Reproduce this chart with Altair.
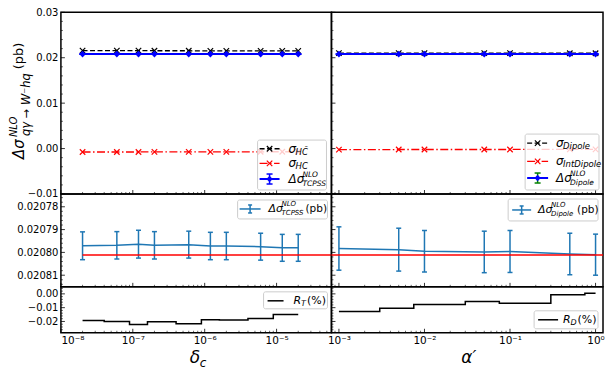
import math
import altair as alt
import pandas as pd

# ---------------- data ----------------
delta_c = [2e-8, 6e-8, 1.2e-7, 2e-7, 6e-7, 1.2e-6, 2e-6, 6e-6, 1.2e-5, 2e-5]
alpha_p = [1e-3, 5e-3, 1e-2, 5e-2, 1e-1, 5e-1, 1.0]

nlo_tcpss = [0.0207971, 0.0207969, 0.0207964, 0.0207969, 0.0207966,
             0.0207972, 0.0207972, 0.0207975, 0.0207980, 0.0207980]
nlo_tcpss_err = [0.0000061, 0.0000060, 0.0000061, 0.0000060, 0.0000059,
                 0.0000060, 0.0000060, 0.0000059, 0.0000059, 0.0000059]
nlo_dipole = [0.0207983, 0.0207988, 0.0207995, 0.0207998, 0.0207996, 0.0208007, 0.0208010]
nlo_dipole_err = [0.0000095, 0.0000094, 0.0000091, 0.0000091, 0.0000092, 0.0000091, 0.0000090]
nlo_reference = 0.0208011

sigma_hcbar = [0.02156, 0.02155, 0.02155, 0.02154, 0.02153, 0.02152, 0.02152, 0.02151, 0.02150, 0.02150]
sigma_hc = [-0.00076, -0.00075, -0.00075, -0.00074, -0.00073, -0.00072, -0.00072, -0.00071, -0.00070, -0.00070]
sigma_dipole = [0.02102, 0.02101, 0.02101, 0.02100, 0.02100, 0.02099, 0.02099]
sigma_intdipole = [-0.00022, -0.00021, -0.00021, -0.00020, -0.00020, -0.00019, -0.00019]

r_t = [-0.0193, -0.0200, -0.0222, -0.0202, -0.0217, -0.0188, -0.0190, -0.0178, -0.0149, -0.0149]
r_d = [-0.0128, -0.0104, -0.0077, -0.0055, -0.0068, -0.0007, 0.0005]

x_major = {"L": [1e-8, 1e-7, 1e-6, 1e-5], "R": [1e-3, 1e-2, 1e-1, 1.0]}
x_labels = {"L": ["10⁻⁸", "10⁻⁷", "10⁻⁶", "10⁻⁵"], "R": ["10⁻³", "10⁻²", "10⁻¹", "10⁰"]}
y_major = {"T": [-0.01, 0.0, 0.01, 0.02, 0.03],
           "M": [0.02078, 0.02079, 0.02080, 0.02081],
           "B": [-0.02, -0.01, 0.0]}

# ---------------- layout / style ----------------
FONT = "DejaVu Sans"
W = {"L": 271, "R": 272}
H = {"T": 182, "M": 93, "B": 46}
XDOM = {"L": [1e-8, 5.8e-5], "R": [8.18e-4, 1.222]}
YDOM = {"T": [-0.01, 0.03], "M": [0.0207744, 0.0208151], "B": [-0.0282, 0.0051]}
BLUE, TAB, RED, GREEN = "#0000ff", "#1f77b4", "#ff0000", "#008000"
XPATH = "M-1,-1L1,1M-1,1L1,-1"
HPATH = "M-1,0L1,0"
DASH = [5, 2.5]
DASHDOT = [8, 2.5, 1.5, 2.5]
ONE = pd.DataFrame({"k": [0]})
TOP_OFF = 13  # page y of the top panel (legend positions measured in page pixels)


def log_minors(lo, hi):
    out = []
    for e in range(-9, 1):
        for m in range(2, 10):
            v = m * 10.0 ** e
            if lo <= v <= hi:
                out.append(v)
    return out


y_minor = {
    "T": [round(k * 0.002, 4) for k in range(-4, 15) if k % 5 != 0],
    "M": [round(0.020776 + 2e-6 * k, 7) for k in range(20) if k % 5 != 2],
    "B": [round(k * 0.002, 4) for k in range(-14, 3) if k % 5 != 0],
}


def x_axis(side, row):
    if row != "B":
        return None
    expr = " ".join(
        f"abs(log(datum.value)/LN10-({round(math.log10(v))}))<0.01 ? '{lab}' :"
        for v, lab in zip(x_major[side], x_labels[side])) + " ''"
    return alt.Axis(values=x_major[side], labelExpr=expr, ticks=False, domain=False,
                    grid=False, title=None, labelFont=FONT, labelFontSize=10.5,
                    labelColor="black", labelPadding=3)


def y_axis(side, row):
    if side != "L":
        return None
    return alt.Axis(values=y_major[row], format=".5f" if row == "M" else ".2f",
                    ticks=False, domain=False, grid=False, title=None,
                    labelFont=FONT, labelFontSize=10, labelColor="black", labelPadding=3)


def X(f, side, row):
    return alt.X(f, type="quantitative", axis=x_axis(side, row),
                 scale=alt.Scale(type="log", domain=XDOM[side], nice=False))


def Y(f, side, row):
    return alt.Y(f, type="quantitative", axis=y_axis(side, row),
                 scale=alt.Scale(domain=YDOM[row], reverse=(row == "M"), nice=False, zero=False))


def tick_layers(side, row):
    h = H[row]
    return [
        alt.Chart(pd.DataFrame({"t": x_major[side]})).mark_rule(color="black", strokeWidth=0.8).encode(
            x=X("t", side, row), y=alt.value(h), y2=alt.value(h - 4)),
        alt.Chart(pd.DataFrame({"t": log_minors(*XDOM[side])})).mark_rule(color="black", strokeWidth=0.6).encode(
            x=X("t", side, row), y=alt.value(h), y2=alt.value(h - 2)),
        alt.Chart(pd.DataFrame({"t": y_major[row]})).mark_rule(color="black", strokeWidth=0.8).encode(
            y=Y("t", side, row), x=alt.value(0), x2=alt.value(4)),
        alt.Chart(pd.DataFrame({"t": y_minor[row]})).mark_rule(color="black", strokeWidth=0.6).encode(
            y=Y("t", side, row), x=alt.value(0), x2=alt.value(2)),
    ]


def txt(s, x, y, size=11, style="italic", align="left", baseline="middle", angle=0):
    return alt.Chart(ONE).mark_text(text=s, font=FONT, fontSize=size, fontStyle=style, align=align,
                                    baseline=baseline, angle=angle, color="black").encode(
        x=alt.value(x), y=alt.value(y))


def box(x1, x2, y1, y2):
    return alt.Chart(ONE).mark_rect(fill="white", fillOpacity=0.8, stroke="#cccccc", strokeWidth=1,
                                    cornerRadius=2).encode(
        x=alt.value(x1), x2=alt.value(x2), y=alt.value(y1), y2=alt.value(y2))


def seg(x1, x2, y, color, dash=None, width=1.5):
    kw = dict(color=color, strokeWidth=width)
    if dash:
        kw["strokeDash"] = dash
    return alt.Chart(ONE).mark_rule(**kw).encode(x=alt.value(x1), x2=alt.value(x2), y=alt.value(y))


def vseg(x, y1, y2, color, width=1.5):
    return alt.Chart(ONE).mark_rule(color=color, strokeWidth=width).encode(
        x=alt.value(x), y=alt.value(y1), y2=alt.value(y2))


def sym(x, y, shape, size, color, filled=False, sw=1.2):
    return alt.Chart(ONE).mark_point(shape=shape, size=size, color=color, filled=filled,
                                     strokeWidth=sw, opacity=1).encode(x=alt.value(x), y=alt.value(y))


def errsym(x, y, color_bar, color_mark, half=5):
    return [vseg(x, y - half, y + half, color_bar),
            sym(x, y - half, HPATH, 36, color_bar, sw=1.5),
            sym(x, y + half, HPATH, 36, color_bar, sw=1.5),
            sym(x, y, "diamond", 40, color_mark, filled=True)]


def step_frame(xv, yv):
    px, py = [], []
    n = len(xv)
    for i in range(n):
        a = xv[i] if i == 0 else (xv[i - 1] + xv[i]) / 2
        b = xv[i] if i == n - 1 else (xv[i] + xv[i + 1]) / 2
        px += [a, b]
        py += [yv[i], yv[i]]
    return pd.DataFrame({"x": px, "y": py, "i": list(range(len(px)))})


# ---------------- top row ----------------
def top_panel(side, xv, a, b, c, lab_a, lab_b, sub3, green):
    r = "T"
    df = pd.DataFrame({"x": xv, "a": a, "b": b, "c": c})
    base = alt.Chart(df)
    layers = tick_layers(side, r)
    layers += [
        base.mark_line(color="black", strokeWidth=1.3, strokeDash=DASH).encode(x=X("x", side, r), y=Y("a", side, r)),
        base.mark_point(shape=XPATH, size=30, color="black", filled=False, strokeWidth=1.2, opacity=1).encode(
            x=X("x", side, r), y=Y("a", side, r)),
        base.mark_line(color=RED, strokeWidth=1.3, strokeDash=DASHDOT).encode(x=X("x", side, r), y=Y("b", side, r)),
        base.mark_point(shape=XPATH, size=30, color=RED, filled=False, strokeWidth=1.2, opacity=1).encode(
            x=X("x", side, r), y=Y("b", side, r)),
        base.mark_line(color=BLUE, strokeWidth=2).encode(x=X("x", side, r), y=Y("c", side, r)),
        base.mark_point(shape=HPATH, size=49, color=BLUE, filled=False, strokeWidth=1.5, opacity=1).encode(
            x=X("x", side, r), y=Y("c", side, r)),
        base.mark_point(shape="diamond", size=45, color=BLUE, filled=True, opacity=1).encode(
            x=X("x", side, r), y=Y("c", side, r)),
    ]
    o = TOP_OFF
    if side == "L":
        bx1, bx2, by1, by2 = 197, 266, 141 - o, 191 - o
        rows = [149.7 - o, 164.3 - o, 180 - o]
        l1, l2, tx = 199, 219, 228
    else:
        bx1, bx2, by1, by2 = 194, 268, 135 - o, 191 - o
        rows = [144 - o, 162.3 - o, 179 - o]
        l1, l2, tx = 196, 217, 225
    lm = (l1 + l2) / 2
    layers += [box(bx1, bx2, by1, by2),
               seg(l1, l2, rows[0], "black", DASH, 1.3), sym(lm, rows[0], XPATH, 30, "black"),
               txt("σ", tx, rows[0], 12), txt(lab_a, tx + 7, rows[0] + 3, 8.5),
               seg(l1, l2, rows[1], RED, DASHDOT, 1.3), sym(lm, rows[1], XPATH, 30, RED),
               txt("σ", tx, rows[1], 12), txt(lab_b, tx + 7, rows[1] + 3, 8.5),
               seg(l1, l2, rows[2], BLUE, None, 2)]
    layers += errsym(lm, rows[2], GREEN if green else BLUE, BLUE)
    layers += [txt("Δσ", tx, rows[2], 12), txt("NLO", tx + 14, rows[2] - 4.5, 7.5),
               txt(sub3, tx + 14, rows[2] + 4.5, 7.5)]
    if side == "L":
        # rotated y-axis title
        layers += [txt("Δσ", -41.5, 160 - o, 15, angle=270),
                   txt("NLO", -47, 138 - o, 10, angle=270),
                   txt("qγ → W⁻hq", -34, 137 - o, 11.5, angle=270),
                   txt("(pb)", -41.5, 70 - o, 13, style="normal", angle=270)]
    return alt.layer(*layers).properties(width=W[side], height=H[r])


# ---------------- middle row ----------------
def mid_panel(side, xv, v, e, sub):
    r = "M"
    df = pd.DataFrame({"x": xv, "v": v, "e": e})
    base = alt.Chart(df).transform_calculate(lo="datum.v - datum.e", hi="datum.v + datum.e")
    ref = pd.DataFrame({"x0": [xv[0]], "r": [nlo_reference]})
    layers = tick_layers(side, r)
    layers += [
        base.mark_line(color=TAB, strokeWidth=1.5).encode(x=X("x", side, r), y=Y("v", side, r)),
        base.mark_rule(color=TAB, strokeWidth=1.5).encode(x=X("x", side, r), y=Y("lo", side, r), y2="hi:Q"),
        base.mark_point(shape=HPATH, size=25, color=TAB, filled=False, strokeWidth=1.5, opacity=1).encode(
            x=X("x", side, r), y=Y("lo", side, r)),
        base.mark_point(shape=HPATH, size=25, color=TAB, filled=False, strokeWidth=1.5, opacity=1).encode(
            x=X("x", side, r), y=Y("hi", side, r)),
    ]
    if side == "L":
        layers.append(alt.Chart(ref).mark_rule(color=RED, strokeWidth=1.5).encode(
            x=X("x0", side, r), x2=alt.value(W[side]), y=Y("r", side, r)))
        bx1, bx2, by1, by2, ry, l1, l2, tx, tp = 177, 267, 6, 25, 15, 179, 200, 208, 245
    else:
        layers.append(alt.Chart(ref).mark_rule(color=RED, strokeWidth=1.5).encode(
            x=alt.value(0), x2=alt.value(W[side]), y=Y("r", side, r)))
        bx1, bx2, by1, by2, ry, l1, l2, tx, tp = 177, 267, 5, 27, 16, 181, 200, 207, 246
    lm = (l1 + l2) / 2
    layers += [box(bx1, bx2, by1, by2), seg(l1, l2, ry, TAB, None, 1.5),
               vseg(lm, ry - 4, ry + 4, TAB), sym(lm, ry - 4, HPATH, 16, TAB, sw=1.5),
               sym(lm, ry + 4, HPATH, 16, TAB, sw=1.5),
               txt("Δσ", tx, ry, 11), txt("NLO", tx + 13, ry - 4.5, 7), txt(sub, tx + 13, ry + 4, 7),
               txt("(pb)", tp, ry, 10.5, style="normal")]
    return alt.layer(*layers).properties(width=W[side], height=H[r])


# ---------------- bottom row ----------------
def bot_panel(side, xv, rv, sub):
    r = "B"
    df = step_frame(xv, rv)
    layers = tick_layers(side, r)
    layers.append(alt.Chart(df).mark_line(color="black", strokeWidth=1.5).encode(
        x=X("x", side, r), y=Y("y", side, r), order=alt.Order("i:Q")))
    if side == "L":
        bx1, bx2, by1, by2, ry, l1, l2, tx, tp = 203, 267, 5, 22, 14, 207, 223, 233, 246.5
        layers += [txt("δ", 129, 71, 17), txt("c", 139, 76, 12)]
    else:
        bx1, bx2, by1, by2, ry, l1, l2, tx, tp = 203, 267, 24, 42, 33, 207, 227, 232, 246.5
        layers += [txt("α′", 130, 71, 17)]
    layers += [box(bx1, bx2, by1, by2), seg(l1, l2, ry, "black", None, 1.5),
               txt("R", tx, ry, 11), txt(sub, tx + 7.5, ry + 3, 8), txt("(%)", tp, ry, 11, style="normal")]
    return alt.layer(*layers).properties(width=W[side], height=H[r])


panels = [
    top_panel("L", delta_c, sigma_hcbar, sigma_hc, nlo_tcpss, "HC̄", "HC", "TCPSS", False),
    top_panel("R", alpha_p, sigma_dipole, sigma_intdipole, nlo_dipole, "Dipole", "IntDipole", "Dipole", True),
    mid_panel("L", delta_c, nlo_tcpss, nlo_tcpss_err, "TCPSS"),
    mid_panel("R", alpha_p, nlo_dipole, nlo_dipole_err, "Dipole"),
    bot_panel("L", delta_c, r_t, "T"),
    bot_panel("R", alpha_p, r_d, "D"),
]

chart = alt.concat(*panels, columns=2, spacing=0, bounds="flush").properties(
    padding={"left": 0, "top": -2, "right": 2, "bottom": 2},
    background="white",
).configure_view(stroke="black", strokeWidth=1.5)

chart.save("out.html", embed_options={"renderer": "svg", "actions": False})
